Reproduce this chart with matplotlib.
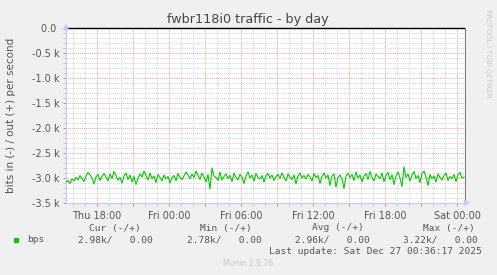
import numpy as np
import matplotlib
matplotlib.use("Agg")
import matplotlib.pyplot as plt
from matplotlib.patches import Rectangle

# ---- data ----
title = "fwbr118i0 traffic - by day"
ylabel = "bits in (-) / out (+) per second"
series_name = "bps"
start_hour = -2.583          # hours relative to Thu 18:00
step_hours = 1.0 / 6.0       # 10-minute samples
bps_in = [
    -3080, -3050, -3110, -3020, -3060, -2990, -3040, -2950, -3010, -3070,
    -2960, -2890, -2940, -3000, -3120, -2980, -2930, -3050, -2970, -2910,
    -2980, -3060, -2920, -3010, -2870, -2950, -3040, -2990, -3100, -2960,
    -2900, -3030, -2940, -3080, -2970, -3130, -3000, -2920, -2980, -2860,
    -2950, -3040, -2900, -3010, -2960, -3090, -2930, -2990, -3060, -2940,
    -3020, -2970, -3100, -2990, -2950, -3050, -2910, -2990, -3030, -2960,
    -2880, -2940, -3010, -2920, -2990, -2860, -2950, -3030, -2900, -2980,
    -3080, -2930, -3220, -2800, -2960, -2990, -3050, -2880, -3040, -2970,
    -2920, -3010, -2950, -3070, -2900, -2990, -3040, -2930, -2980, -3110,
    -2960, -2880, -3000, -2940, -3060, -2910, -2990, -3020, -2950, -3080,
    -2960, -2910, -3000, -2940, -3050, -2970, -2930, -3010, -2900, -2990,
    -3060, -2920, -2980, -3030, -2940, -3120, -2960, -2900, -3000, -2950,
    -3020, -2930, -2980, -3060, -2910, -2990, -2950, -3110, -2970, -2900,
    -3000, -2940, -3150, -2960, -2920, -3180, -2990, -2940, -3020, -3210,
    -2960, -2900, -2990, -2930, -3050, -2880, -3000, -2940, -3080, -2960,
    -2910, -3030, -2870, -2990, -3060, -2920, -2970, -3010, -2900, -3070,
    -2950, -2890, -3030, -2940, -3130, -2960, -2880, -3000, -3170, -2780,
    -2990, -2920, -3060, -2940, -2870, -3010, -2950, -3090, -2910, -2860,
    -2980, -3150, -2930, -3010, -2960, -3080, -2920, -2990, -3040, -2950,
    -2900, -3050, -2970, -3010, -2930, -3070, -2940, -2890, -3000, -2980,
]
bps_out = [0.0] * len(bps_in)
x_label_hours = [0, 6, 12, 18, 24, 30]
x_labels = ["Thu 18:00", "Fri 00:00", "Fri 06:00", "Fri 12:00", "Fri 18:00", "Sat 00:00"]
y_ticks = [0, -500, -1000, -1500, -2000, -2500, -3000, -3500]
y_labels = ["0.0 ", "-0.5 k", "-1.0 k", "-1.5 k", "-2.0 k", "-2.5 k", "-3.0 k", "-3.5 k"]
legend_headers = ["Cur (-/+)", "Min (-/+)", "Avg (-/+)", "Max (-/+)"]
legend_values = ["2.98k/   0.00", "2.78k/   0.00", "2.96k/   0.00", "3.22k/   0.00"]
last_update = "Last update: Sat Dec 27 00:36:17 2025"
footer = "Munin 2.0.76"
watermark = "RRDTOOL / TOBI OETIKER"

# ---- figure ----
W, H = 497, 275
fig = plt.figure(figsize=(W / 100, H / 100), dpi=100, facecolor="#F0F0F0")
L, R, T, B = 66, 466, 28, 203
ax = fig.add_axes([L / W, 1 - B / H, (R - L) / W, (B - T) / H])
ax.set_facecolor("white")

x = start_hour + step_hours * np.arange(len(bps_in))
xmin, xmax = start_hour, start_hour + (R - L) / 12.0
ax.set_xlim(xmin, xmax)
ax.set_ylim(-3500, 0)

# grid
ax.set_yticks(y_ticks)
ax.set_yticklabels(y_labels)
ax.set_yticks(np.arange(-3500, 1, 100), minor=True)
maj_x = np.arange(-0, 31, 3)
ax.set_xticks(maj_x)
ax.set_xticklabels([x_labels[x_label_hours.index(h)] if h in x_label_hours else "" for h in maj_x])
ax.set_xticks(np.arange(-2, 31, 1), minor=True)

ax.grid(which="minor", color="#d4d4d4", linestyle=(0, (1, 1)), linewidth=0.7)
ax.grid(which="major", color="#e8a4a4", linestyle=(0, (1, 1)), linewidth=0.7)
ax.set_axisbelow(True)

ax.tick_params(axis="both", which="major", length=2.5, width=0.7, color="#e08080",
               labelsize=7, labelcolor="#555555", pad=2)
ax.tick_params(axis="both", which="minor", length=2, width=0.7, color="#c8c8c8")
ax.tick_params(axis="x", which="major", pad=3)

for s in ["top", "right"]:
    ax.spines[s].set_visible(False)
for s in ["left", "bottom"]:
    ax.spines[s].set_color("#c8c8ff")
    ax.spines[s].set_linewidth(0.8)

# data lines
ax.plot(x, bps_in, color="#00CC00", linewidth=0.8, zorder=3)
ax.plot(x, bps_out, color="#000000", linewidth=1.0, zorder=3, clip_on=False)
ax.axvline(xmax - 0.05, color="#777777", linewidth=0.8, zorder=3)

# arrows on axes
ax.annotate("", xy=(L / W, 1 - 21 / H), xytext=(L / W, 1 - 30 / H), xycoords="figure fraction",
            arrowprops=dict(arrowstyle="-|>,head_length=0.35,head_width=0.18", color="#c8c8ff", lw=0.8))
ax.annotate("", xy=(473 / W, 1 - B / H), xytext=(464 / W, 1 - B / H), xycoords="figure fraction",
            arrowprops=dict(arrowstyle="-|>,head_length=0.35,head_width=0.18", color="#c8c8ff", lw=0.8))

# texts
def ftext(px, py, s, **kw):
    fig.text(px / W, 1 - py / H, s, **kw)

ftext(248, 19, title, ha="center", va="center", fontsize=9.2, color="#444444")
ftext(11, 115, ylabel, ha="center", va="center", rotation=90, fontsize=7.5, color="#555555")
ftext(488, 53, watermark, ha="center", va="center", rotation=270, fontsize=5, color="#cccccc")

mono = dict(family="DejaVu Sans Mono", fontsize=6.8, color="#555555", va="center", ha="left")
header_x = [89, 200, 312, 423]
value_x = [78, 187, 295, 403]
for hx, hs in zip(header_x, legend_headers):
    ftext(hx, 228, hs, **mono)
for vx, vs in zip(value_x, legend_values):
    ftext(vx, 240, vs, **mono)
ftext(27, 240, series_name, **mono)
fig.patches.append(Rectangle((14 / W, 1 - 242.5 / H), 5 / W, 5 / H, transform=fig.transFigure,
                             facecolor="#00CC00", edgecolor="none"))
ftext(482, 251, last_update, **{**mono, "ha": "right"})
ftext(248, 264, footer, ha="center", va="center", fontsize=5.5, color="#c8c8c8")

fig.savefig("out.png", dpi=100, facecolor=fig.get_facecolor())
